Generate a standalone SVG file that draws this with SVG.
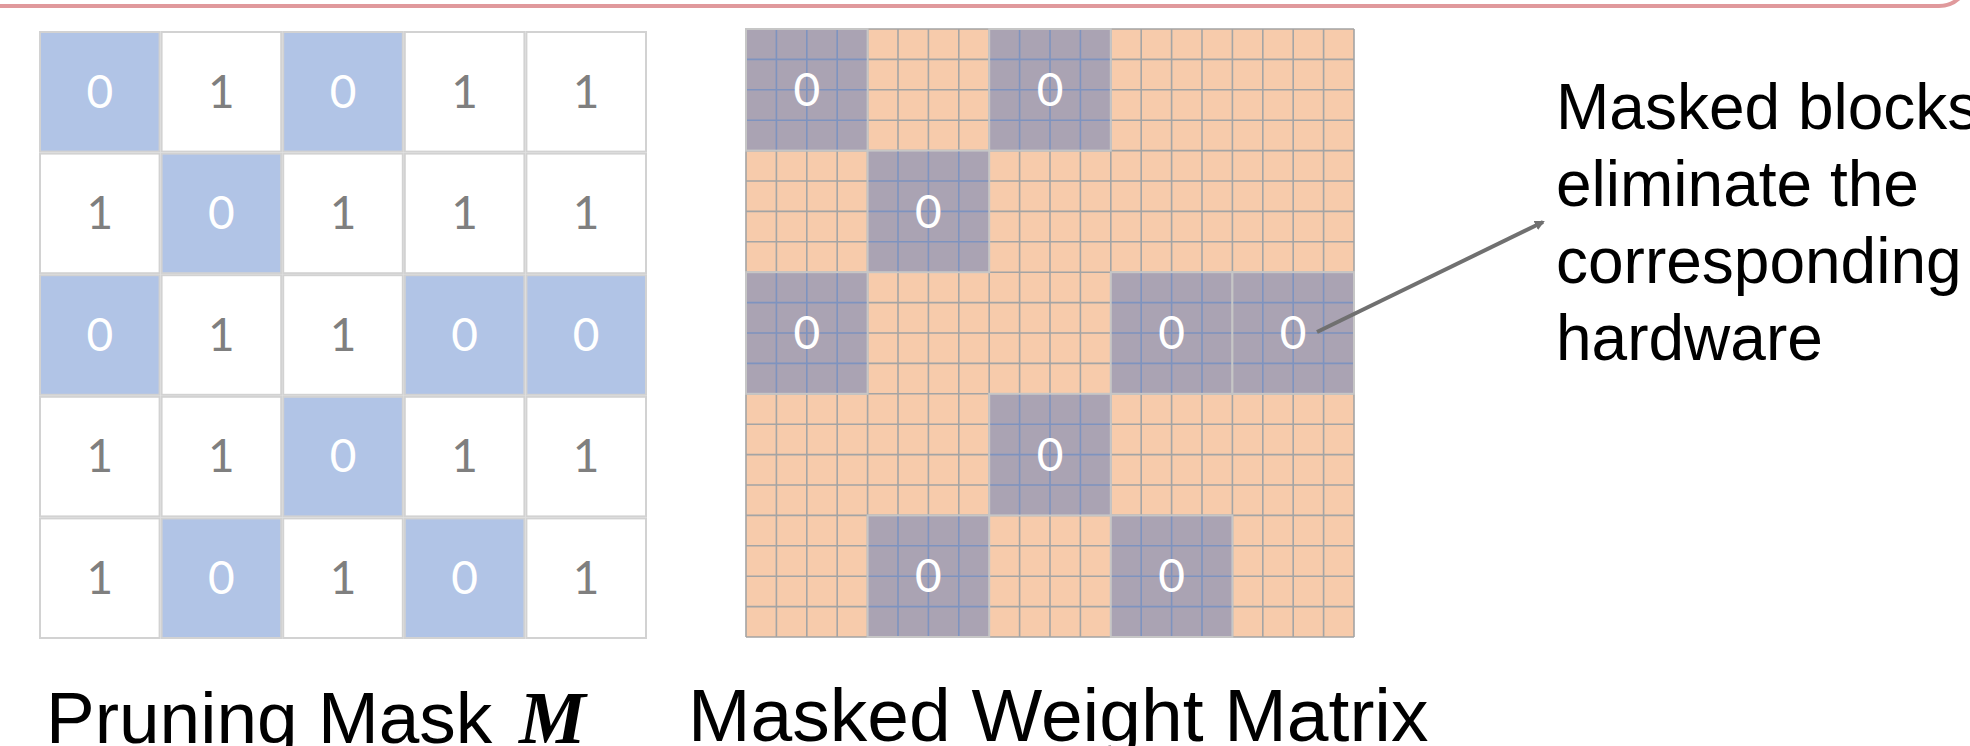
<svg xmlns="http://www.w3.org/2000/svg" xmlns:xlink="http://www.w3.org/1999/xlink" width="1970" height="746" viewBox="0 0 1970 746">
  <style>
    .cell { fill: #ffffff; stroke: #d2d2d2; stroke-width: 2; }
    .cell.z { fill: #b1c4e6; }
    .d1 { font-family: Lato, "Open Sans", sans-serif; font-size: 46px; fill: #7f7f7f; text-anchor: middle; }
    .d0 { font-family: Lato, "Open Sans", sans-serif; font-size: 46px; fill: #ffffff; text-anchor: middle; }
    .lbl { font-family: "Liberation Sans", Arial, sans-serif; fill: #000000; }
    .big { font-size: 75px; }
    .big2 { font-size: 73px; }
    .note { font-size: 64px; }
    .mi { font-family: "Liberation Serif", "Times New Roman", serif; font-weight: bold; font-style: italic; font-size: 75px; fill: #000000; }
  </style>
  <defs>
    <g id="blk">
      <rect x="0" y="0" width="121.6" height="121.6" fill="#aaa3b3" stroke="#c6c6c6" stroke-width="2"/>
      <path d="M30.4 1V120.6M60.8 1V120.6M91.2 1V120.6M1 30.4H120.6M1 60.8H120.6M1 91.2H120.6" stroke="#7e93bf" stroke-width="1.6" fill="none"/>
    </g>
    <marker id="ah" markerWidth="10" markerHeight="10" refX="8" refY="5" orient="auto" markerUnits="userSpaceOnUse" viewBox="0 0 10 10">
      <path d="M0 0 L10 5 L0 10 Z" fill="#707070"/>
    </marker>
  </defs>

  <rect x="0" y="0" width="1970" height="746" fill="#ffffff"/>

  <!-- top frame edge -->
  <path d="M-10 6 H1939 A30 30 0 0 0 1969 -24" fill="none" stroke="#e0999c" stroke-width="4"/>

  <!-- Pruning mask -->
  <g id="mask">
    <g id="mask-r0">
      <rect class="cell z" x="40" y="32" width="119.6" height="119.6"/>
      <rect class="cell" x="161.6" y="32" width="119.6" height="119.6"/>
      <rect class="cell z" x="283.2" y="32" width="119.6" height="119.6"/>
      <rect class="cell" x="404.8" y="32" width="119.6" height="119.6"/>
      <rect class="cell" x="526.4" y="32" width="119.6" height="119.6"/>
      <text class="d0" x="99.8" y="107.5">0</text>
      <text class="d1" x="221.4" y="107.5">1</text>
      <text class="d0" x="343" y="107.5">0</text>
      <text class="d1" x="464.6" y="107.5">1</text>
      <text class="d1" x="586.2" y="107.5">1</text>
    </g>
    <g id="mask-r1">
      <rect class="cell" x="40" y="153.6" width="119.6" height="119.6"/>
      <rect class="cell z" x="161.6" y="153.6" width="119.6" height="119.6"/>
      <rect class="cell" x="283.2" y="153.6" width="119.6" height="119.6"/>
      <rect class="cell" x="404.8" y="153.6" width="119.6" height="119.6"/>
      <rect class="cell" x="526.4" y="153.6" width="119.6" height="119.6"/>
      <text class="d1" x="99.8" y="229.1">1</text>
      <text class="d0" x="221.4" y="229.1">0</text>
      <text class="d1" x="343" y="229.1">1</text>
      <text class="d1" x="464.6" y="229.1">1</text>
      <text class="d1" x="586.2" y="229.1">1</text>
    </g>
    <g id="mask-r2">
      <rect class="cell z" x="40" y="275.2" width="119.6" height="119.6"/>
      <rect class="cell" x="161.6" y="275.2" width="119.6" height="119.6"/>
      <rect class="cell" x="283.2" y="275.2" width="119.6" height="119.6"/>
      <rect class="cell z" x="404.8" y="275.2" width="119.6" height="119.6"/>
      <rect class="cell z" x="526.4" y="275.2" width="119.6" height="119.6"/>
      <text class="d0" x="99.8" y="350.7">0</text>
      <text class="d1" x="221.4" y="350.7">1</text>
      <text class="d1" x="343" y="350.7">1</text>
      <text class="d0" x="464.6" y="350.7">0</text>
      <text class="d0" x="586.2" y="350.7">0</text>
    </g>
    <g id="mask-r3">
      <rect class="cell" x="40" y="396.8" width="119.6" height="119.6"/>
      <rect class="cell" x="161.6" y="396.8" width="119.6" height="119.6"/>
      <rect class="cell z" x="283.2" y="396.8" width="119.6" height="119.6"/>
      <rect class="cell" x="404.8" y="396.8" width="119.6" height="119.6"/>
      <rect class="cell" x="526.4" y="396.8" width="119.6" height="119.6"/>
      <text class="d1" x="99.8" y="472.3">1</text>
      <text class="d1" x="221.4" y="472.3">1</text>
      <text class="d0" x="343" y="472.3">0</text>
      <text class="d1" x="464.6" y="472.3">1</text>
      <text class="d1" x="586.2" y="472.3">1</text>
    </g>
    <g id="mask-r4">
      <rect class="cell" x="40" y="518.4" width="119.6" height="119.6"/>
      <rect class="cell z" x="161.6" y="518.4" width="119.6" height="119.6"/>
      <rect class="cell" x="283.2" y="518.4" width="119.6" height="119.6"/>
      <rect class="cell z" x="404.8" y="518.4" width="119.6" height="119.6"/>
      <rect class="cell" x="526.4" y="518.4" width="119.6" height="119.6"/>
      <text class="d1" x="99.8" y="593.9">1</text>
      <text class="d0" x="221.4" y="593.9">0</text>
      <text class="d1" x="343" y="593.9">1</text>
      <text class="d0" x="464.6" y="593.9">0</text>
      <text class="d1" x="586.2" y="593.9">1</text>
    </g>
  </g>

  <!-- Masked weight matrix -->
  <g id="weights">
    <rect x="746" y="29" width="608" height="608" fill="#f7cbab"/>
    <path fill="none" stroke="#a4a4a4" stroke-width="1.6" d="M746 29V637M776.4 29V637M806.8 29V637M837.2 29V637M867.6 29V637M898 29V637M928.4 29V637M958.8 29V637M989.2 29V637M1019.6 29V637M1050 29V637M1080.4 29V637M1110.8 29V637M1141.2 29V637M1171.6 29V637M1202 29V637M1232.4 29V637M1262.8 29V637M1293.2 29V637M1323.6 29V637M1354 29V637M746 29H1354M746 59.4H1354M746 89.8H1354M746 120.2H1354M746 150.6H1354M746 181H1354M746 211.4H1354M746 241.8H1354M746 272.2H1354M746 302.6H1354M746 333H1354M746 363.4H1354M746 393.8H1354M746 424.2H1354M746 454.6H1354M746 485H1354M746 515.4H1354M746 545.8H1354M746 576.2H1354M746 606.6H1354M746 637H1354"/>
  </g>
  <g id="blk-0-0"><use xlink:href="#blk" x="746" y="29"/><text class="d0" x="806.8" y="106">0</text></g>
  <g id="blk-0-2"><use xlink:href="#blk" x="989.2" y="29"/><text class="d0" x="1050" y="106">0</text></g>
  <g id="blk-1-1"><use xlink:href="#blk" x="867.6" y="150.6"/><text class="d0" x="928.4" y="227.6">0</text></g>
  <g id="blk-2-0"><use xlink:href="#blk" x="746" y="272.2"/><text class="d0" x="806.8" y="349.2">0</text></g>
  <g id="blk-2-3"><use xlink:href="#blk" x="1110.8" y="272.2"/><text class="d0" x="1171.6" y="349.2">0</text></g>
  <g id="blk-2-4"><use xlink:href="#blk" x="1232.4" y="272.2"/><text class="d0" x="1293.2" y="349.2">0</text></g>
  <g id="blk-3-2"><use xlink:href="#blk" x="989.2" y="393.8"/><text class="d0" x="1050" y="470.8">0</text></g>
  <g id="blk-4-1"><use xlink:href="#blk" x="867.6" y="515.4"/><text class="d0" x="928.4" y="592.4">0</text></g>
  <g id="blk-4-3"><use xlink:href="#blk" x="1110.8" y="515.4"/><text class="d0" x="1171.6" y="592.4">0</text></g>

  <!-- connectors -->
  <g id="connectors">
    <line x1="1317" y1="332" x2="1543" y2="222" stroke="#707070" stroke-width="4" marker-end="url(#ah)"/>
  </g>

  <!-- annotation -->
  <g id="note">
    <text class="lbl note" x="1556" y="129">Masked blocks</text>
    <text class="lbl note" x="1556" y="206">eliminate the</text>
    <text class="lbl note" x="1556" y="283">corresponding</text>
    <text class="lbl note" x="1556" y="360">hardware</text>
  </g>

  <!-- bottom labels -->
  <g id="label-mask">
    <text class="lbl big2" x="46" y="743">Pruning Mask</text>
    <text class="mi" x="519" y="743">M</text>
  </g>
  <g id="label-weights">
    <text class="lbl big" x="688" y="741">Masked Weight Matrix</text>
  </g>
</svg>
